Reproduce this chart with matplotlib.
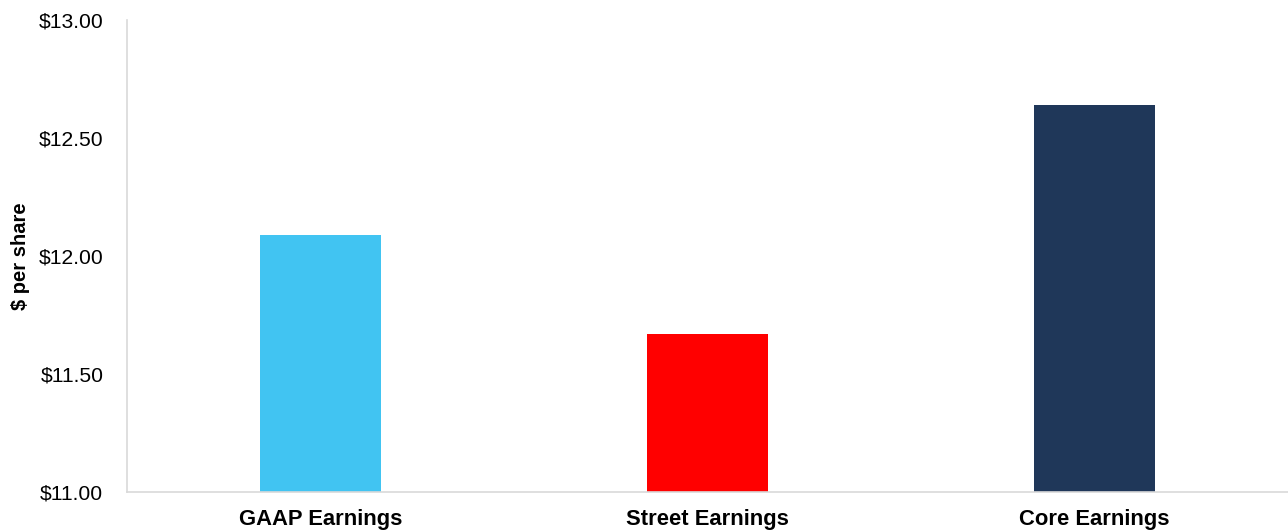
import matplotlib.pyplot as plt
from matplotlib.ticker import FuncFormatter

# Data
categories = ['GAAP Earnings', 'Street Earnings', 'Core Earnings']
eps_values = [12.09, 11.67, 12.64]
bar_colors = ['#41c4f2', '#ff0000', '#1f3759']
y_ticks = [11.0, 11.5, 12.0, 12.5, 13.0]

plt.rcParams['font.family'] = ['Liberation Sans', 'DejaVu Sans']

fig = plt.figure(figsize=(12.88, 5.31), dpi=100)
ax = fig.add_axes([127 / 1288, 39 / 531, 1161 / 1288, 472 / 531])

x_pos = range(len(categories))
ax.bar(x_pos, eps_values, width=0.315, color=bar_colors, bottom=0)

ax.set_xlim(-0.5, len(categories) - 0.5)
ax.set_ylim(11.0, 13.0)
ax.set_yticks(y_ticks)
ax.yaxis.set_major_formatter(FuncFormatter(lambda v, _: f'${v:,.2f}'))
ax.set_xticks(list(x_pos))
ax.set_xticklabels(categories, fontsize=15.8, fontweight='bold')
ax.tick_params(axis='y', labelsize=15.2, length=0, pad=17)
ax.tick_params(axis='x', length=0, pad=12)

ax.set_ylabel('$ per share', fontsize=14.5, fontweight='bold')
ax.yaxis.set_label_coords(-0.0835, 0.5)

for side in ['top', 'right']:
    ax.spines[side].set_visible(False)
for side in ['left', 'bottom']:
    ax.spines[side].set_color('#d9d9d9')
    ax.spines[side].set_linewidth(1.2)

fig.savefig('out.png', dpi=100)
